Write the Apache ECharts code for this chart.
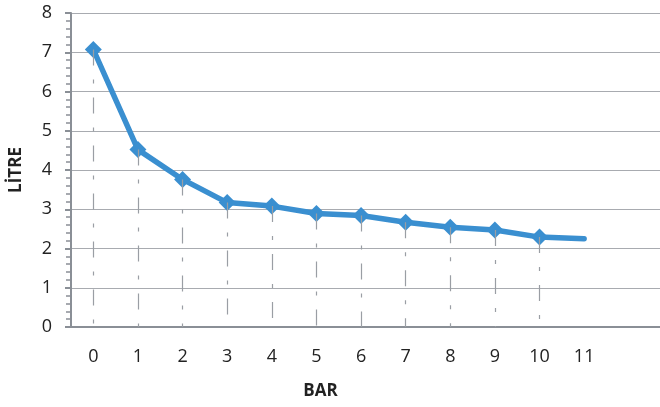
<!DOCTYPE html>
<html><head><meta charset="utf-8">
<script src="https://cdn.jsdelivr.net/npm/echarts@6/dist/echarts.min.js"></script>
<style>html,body{margin:0;padding:0;background:#fff}#c{width:660px;height:407px}</style>
</head><body><div id="c"></div>
<script>
const xValues = [0,1,2,3,4,5,6,7,8,9,10,11];
const litre = [7.07,4.52,3.76,3.17,3.08,2.89,2.84,2.67,2.54,2.47,2.29,2.25];
const dropCount = 11; // drop lines drawn for points 0..10
const xAxisName = 'BAR';
const yAxisName = 'LİTRE';

const lineData = xValues.map((x,i)=>[x, litre[i]]);
const drops = [];
for (let i=0;i<dropCount;i++) drops.push([{coord:[xValues[i], litre[i]]},{coord:[xValues[i],0]}]);
const font = '"Open Sans", "Liberation Sans", sans-serif';

const chart = echarts.init(document.getElementById('c'), null, {renderer:'canvas'});
chart.setOption({
  animation:false,
  grid:{left:70, right:0, top:13, bottom:80},
  xAxis:{type:'value', min:-0.5, max:12.7, interval:0.5,
    name:xAxisName, nameLocation:'middle', nameGap:56,
    nameTextStyle:{fontFamily:font, fontWeight:'bold', fontSize:17, color:'#222', padding:[0,90,0,0]},
    axisLine:{show:true, onZero:false, lineStyle:{color:'#8a8f96', width:2}},
    axisTick:{show:false}, splitLine:{show:false},
    axisLabel:{fontFamily:font, fontSize:18, color:'#222', margin:21, showMaxLabel:false,
      formatter:v=> (Number.isInteger(v) && v>=0 && v<=11) ? String(v) : ''}
  },
  yAxis:{type:'value', min:0, max:8, interval:1,
    name:yAxisName, nameLocation:'middle', nameGap:46, nameRotate:90,
    nameTextStyle:{fontFamily:font, fontWeight:'bold', fontSize:17, color:'#222'},
    axisLine:{show:true, onZero:false, lineStyle:{color:'#8a8f96', width:2}},
    axisTick:{show:true, length:6, lineStyle:{color:'#8a8f96', width:2}},
    minorTick:{show:true, splitNumber:5, length:5, lineStyle:{color:'#8a8f96', width:1.5}},
    splitLine:{show:true, lineStyle:{color:'#a8abb0', width:1.2}},
    axisLabel:{fontFamily:font, fontSize:18, color:'#222', margin:19}
  },
  series:[
    {type:'scatter', data:lineData, symbolSize:0, z:1, silent:true,
      markLine:{silent:true, symbol:'none', label:{show:false},
        lineStyle:{color:'#9a9ea4', width:1.2, type:[16,14,4,14]}, data:drops}},
    {type:'line', data:lineData, z:3,
      lineStyle:{color:'#3a8fd0', width:5.5, cap:'round'},
      itemStyle:{color:'#3a8fd0'},
      symbol:'diamond', symbolSize:(v,p)=> p.dataIndex<dropCount ? 17 : 0,
      showAllSymbol:true}
  ]
});
</script></body></html>
